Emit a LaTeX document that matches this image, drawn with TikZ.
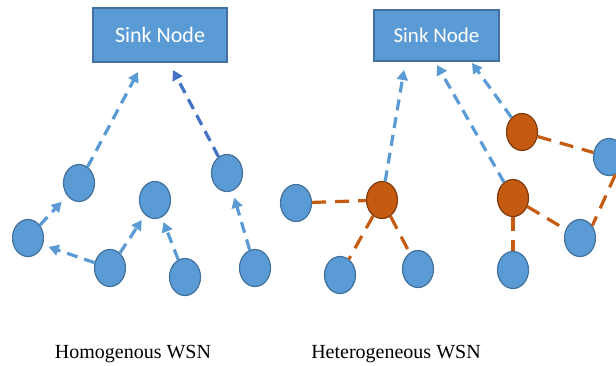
\documentclass[tikz,border=0pt]{standalone}
\usepackage{fontspec}
\setmainfont{Liberation Serif}
\newfontfamily\calibrifont{Carlito}
\usepackage{tikz}
\usetikzlibrary{
	arrows.meta,									% 箭头样式
	shapes.geometric,								% 椭圆节点
}

\definecolor{nodeblue}{HTML}{5B9BD5}
\definecolor{nodeedge}{HTML}{41719C}
\definecolor{darkblue}{HTML}{4472C4}
\definecolor{headorange}{HTML}{C55A11}
\definecolor{headedge}{HTML}{7F3A0E}

\tikzset{
	sink/.style={draw=nodeedge, line width=1.2pt, fill=nodeblue, text=white, inner sep=0pt},
	sensor/.style={ellipse, draw=nodeedge, line width=1.2pt, fill=nodeblue, minimum width=31pt, minimum height=37pt, inner sep=0pt},
	head/.style={sensor, draw=headedge, fill=headorange},
	uplink/.style={draw=nodeblue, line width=3.2pt, dash pattern=on 11pt off 7pt, -{Triangle[length=10pt, width=11pt]}},
	cluster/.style={draw=headorange, line width=3.2pt, dash pattern=on 14pt off 9pt},
	caption/.style={font=\fontsize{20}{24}\selectfont, anchor=base},
}

\begin{document}
\begin{tikzpicture}[x=1pt, y=-1pt]
		\useasboundingbox (0,0) rectangle (616,365);
		\clip (0,0) rectangle (616,365); %右边的节点被裁掉一半

		% 同构网络
		\node[sink, minimum width=134pt, minimum height=54pt, font=\calibrifont\fontsize{22}{26}\selectfont] (sinkL) at (160,35) {Sink Node};
		\node[sensor] (s1) at (79,183) {};
		\node[sensor] (s2) at (28,238) {};
		\node[sensor] (s3) at (155,200) {};
		\node[sensor] (s4) at (227,173) {};
		\node[sensor] (s5) at (110,268) {};
		\node[sensor] (s6) at (185,277) {};
		\node[sensor] (s7) at (255,268) {};
		\coordinate (tL1) at (138,72);
		\coordinate (tL2) at (173,70);

		\draw[uplink] (s1) -- (tL1);
		\draw[uplink, draw=darkblue] (s4) -- (tL2);
		\draw[uplink, shorten >=8pt] (s2) -- (s1);
		\draw[uplink, shorten >=6pt] (s5) -- (s2.-25);
		\draw[uplink, shorten >=6pt] (s5) -- (s3);
		\draw[uplink, shorten >=5pt] (s6) -- (s3);
		\draw[uplink, shorten >=7pt] (s7) -- (s4);

		% 异构网络
		\node[sink, minimum width=125pt, minimum height=51pt, font=\calibrifont\fontsize{21}{25}\selectfont] (sinkR) at (436.5,35.5) {Sink Node};
		\node[head] (c1) at (382,200) {};
		\node[head] (c2) at (513,198) {};
		\node[head] (c3) at (522,132) {};
		\node[sensor] (r1) at (296,203) {};
		\node[sensor] (r2) at (340,275) {};
		\node[sensor] (r3) at (418,269) {};
		\node[sensor] (r4) at (513,270) {};
		\node[sensor] (r5) at (580,238) {};
		\node[sensor] (r6) at (609,157) {};
		\coordinate (tR1) at (404,70);
		\coordinate (tR2) at (437,65);
		\coordinate (tR3) at (472,63);

		\draw[cluster] (r1) -- (c1);
		\draw[cluster] (c1) -- (r2);
		\draw[cluster] (c1) -- (r3);
		\draw[cluster] (c2) -- (r4);
		\draw[cluster] (c2) -- (r5);
		\draw[cluster] (c3) -- (r6);
		\draw[cluster] (r6.290) -- (r5.45);
		\draw[uplink] (c1) -- (tR1);
		\draw[uplink] (c2) -- (tR2);
		\draw[uplink] (c3) -- (tR3);

		\node[caption] (capL) at (133,358) {Homogenous WSN};
		\node[caption] (capR) at (396,358) {Heterogeneous WSN};
	\end{tikzpicture}
\end{document}
